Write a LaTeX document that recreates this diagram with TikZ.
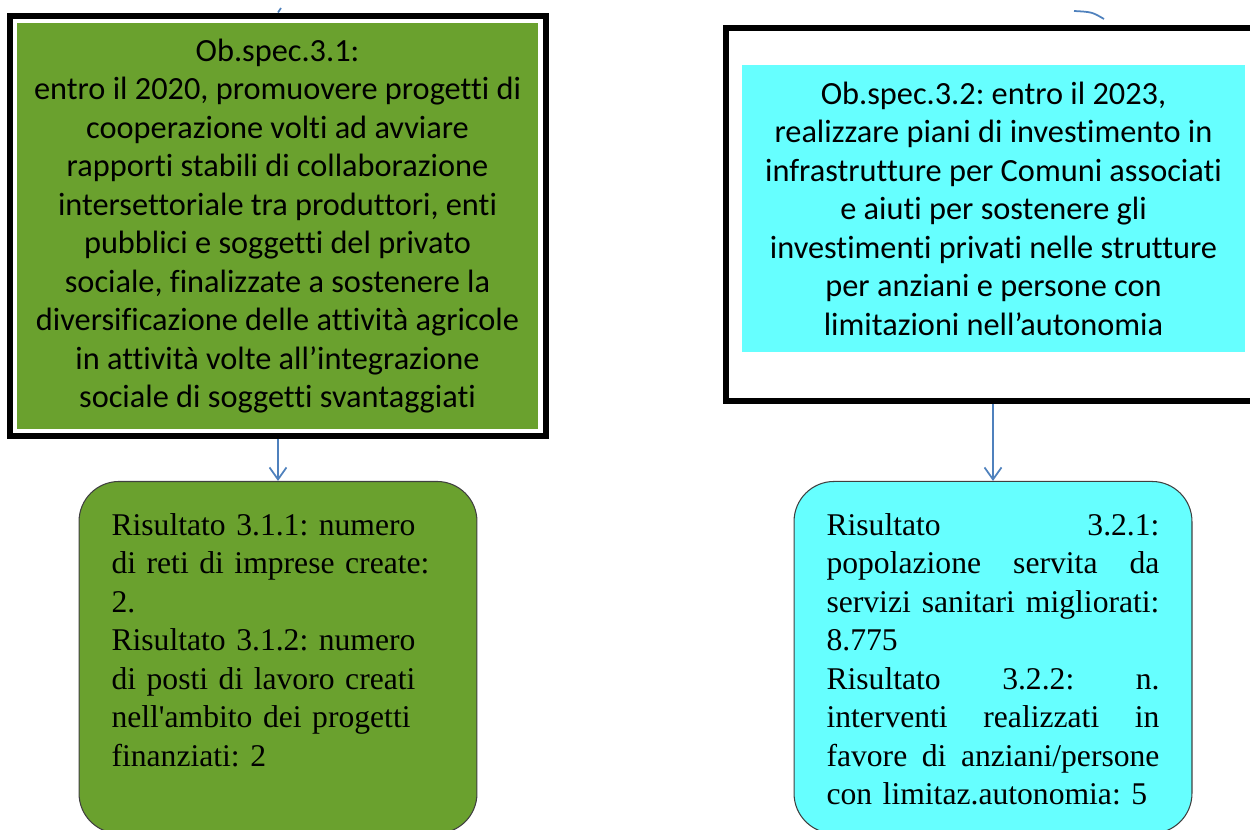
\documentclass[tikz,border=0pt]{standalone}
\usepackage{fontspec}
\setmainfont{Liberation Serif}
\newfontfamily\calibri{Carlito}[Ligatures=NoCommon]
\newfontfamily\timesfont{Liberation Serif}
\usetikzlibrary{arrows.meta}
\usetikzlibrary{positioning}

\definecolor{obgreen}{RGB}{106,161,46}
\definecolor{obcyan}{RGB}{102,255,255}
\definecolor{linkblue}{RGB}{79,129,189}

\newcommand{\jline}[1]{\leavevmode\hbox to 6.66cm{\spaceskip=0pt plus 1fil\xspaceskip=0pt plus 1fil\relax #1}}

\begin{document}
\frenchspacing
\begin{tikzpicture}[x=0.02cm, y=-0.02cm,
    frame/.style={draw=black, line width=0.12cm, inner sep=0pt},
    goal/.style={inner sep=0pt, align=center, font=\calibri\fontsize{18.4}{21.9}\selectfont},
    result/.style={draw=black!75, line width=0.6pt, fill=#1, rounded corners=0.8cm, minimum width=7.96cm, minimum height=7.04cm},
    restext/.style={inner sep=0pt, text width=6.66cm, align=left, font=\timesfont\fontsize{18}{21.9}\selectfont},
    link/.style={draw=linkblue, line width=1pt, -{Straight Barb[length=0.24cm, width=0.34cm]}}]
    \useasboundingbox (0,0) rectangle (1250,830);

    % Obiettivo specifico 3.1
    \node[frame, minimum width=10.72cm, minimum height=8.41cm] (ob31) at (278,225.75) {};
    \node[goal, fill=obgreen, minimum width=10.42cm, minimum height=8.12cm] (goal31) at (277.5,226) {Ob.spec.3.1:\\
        entro il 2020, promuovere progetti di\\
        cooperazione volti ad avviare\\
        rapporti stabili di collaborazione\\
        intersettoriale tra produttori, enti\\
        pubblici e soggetti del privato\\
        sociale, finalizzate a sostenere la\\
        diversificazione delle attività agricole\\
        in attività volte all’integrazione\\
        sociale di soggetti svantaggiati};

    % Obiettivo specifico 3.2
    \node[frame, minimum width=10.68cm, minimum height=7.46cm] (ob32) at (993,214.5) {};
    \node[goal, fill=obcyan, minimum width=10.06cm, minimum height=5.74cm] (goal32) at (993.5,208.5) {Ob.spec.3.2: entro il 2023,\\
        realizzare piani di investimento in\\
        infrastrutture per Comuni associati\\
        e aiuti per sostenere gli\\
        investimenti privati nelle strutture\\
        per anziani e persone con\\
        limitazioni nell’autonomia};

    % risultati
    \node[result=obgreen, below=0.84cm of ob31] (ris31) {};
    \node[restext, below=0.64cm of ris31.north] (ris31txt) {Risultato 3.1.1: numero\\
        di reti di imprese create:\\
        2.\\
        Risultato 3.1.2: numero\\
        di posti di lavoro creati\\
        nell'ambito dei progetti\\
        finanziati: 2};

    \node[result=obcyan, below=1.54cm of ob32] (ris32) {};
    \node[restext, below=0.64cm of ris32.north] (ris32txt) {\jline{Risultato 3.2.1:}\\
        \jline{popolazione servita da}\\
        \jline{servizi sanitari migliorati:}\\
        8.775\\
        \jline{Risultato 3.2.2: n.}\\
        \jline{interventi realizzati in}\\
        \jline{favore di anziani/persone}\\
        con limitaz.autonomia: 5};

    \draw[link] (ob31.south) -- (ris31.north);
    \draw[link] (ob32.south) -- (ris32.north);

    % connettori tagliati in alto
    \coordinate (in31) at (281,8);
    \coordinate (in32) at (1074,11);
    \draw[linkblue, line width=1pt] (in31) -- (ob31.north);
    \draw[linkblue, line width=1pt] (in32) .. controls (1092,12) .. (1104,19);
\end{tikzpicture}
\end{document}
